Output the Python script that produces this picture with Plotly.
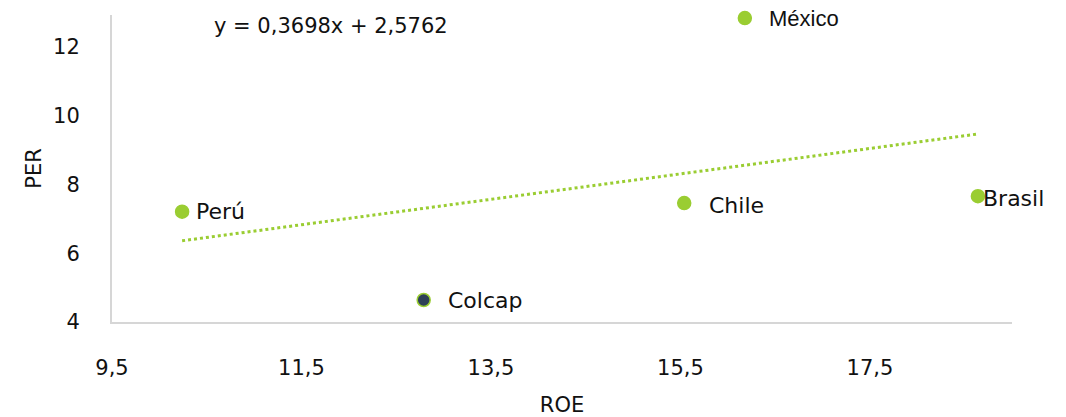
import plotly.graph_objects as go

# ROE vs PER by market
markets = ["Perú", "Colcap", "Chile", "México", "Brasil"]
roe = [10.24, 12.79, 15.54, 16.18, 18.64]
per = [7.21, 4.64, 7.46, 12.84, 7.66]

# linear trend (Excel-style)
slope = 0.3698
intercept = 2.5762
equation = "y = 0,3698x + 2,5762"

x_ticks = [9.5, 11.5, 13.5, 15.5, 17.5]
x_tick_text = ["9,5", "11,5", "13,5", "15,5", "17,5"]
y_ticks = [4, 6, 8, 10, 12]

GREEN = "#9acd32"
NAVY = "#2e4057"
FONT = "DejaVu Sans"

fill_colors = [NAVY if m == "Colcap" else GREEN for m in markets]

fig = go.Figure()

x_min, x_max = min(roe), max(roe)
fig.add_trace(go.Scatter(
    x=[x_min, x_max],
    y=[slope * x_min + intercept, slope * x_max + intercept],
    mode="lines",
    line=dict(color=GREEN, width=3, dash="dot"),
    hoverinfo="skip",
))

fig.add_trace(go.Scatter(
    x=roe, y=per, mode="markers", cliponaxis=False,
    marker=dict(size=13, color=fill_colors, line=dict(color=GREEN, width=1.5)),
))

# label offsets in pixels
shifts = {"Perú": 12, "Colcap": 22, "Chile": 23, "México": 22, "Brasil": 3}
for m, xv, yv in zip(markets, roe, per):
    fig.add_annotation(
        x=xv, y=yv, text=m, showarrow=False, xanchor="left",
        xshift=shifts[m], yshift=-2 if m in ("Chile", "Brasil") else 0,
        font=dict(family="Liberation Sans" if m == "México" else FONT,
                  size=22, color="#111111"),
    )

fig.add_annotation(
    xref="paper", yref="paper", x=0.111, y=0.965, xanchor="left", yanchor="middle",
    text=equation, showarrow=False,
    font=dict(family=FONT, size=21, color="#111111"),
)

fig.update_layout(
    width=1066, height=417,
    margin=dict(l=112, r=54, t=15, b=95),
    plot_bgcolor="white", paper_bgcolor="white",
    showlegend=False,
    font=dict(family=FONT, size=21, color="#111111"),
)
fig.update_xaxes(
    range=[9.5, 19.0], tickvals=x_ticks, ticktext=x_tick_text,
    showgrid=False, zeroline=False, showline=True, automargin=False,
    linecolor="#d6d6d6", linewidth=2, ticks="", ticklabelstandoff=26,
    title=dict(text="ROE", standoff=18, font=dict(size=21)),
)
fig.update_yaxes(
    range=[4, 12.93], tickvals=y_ticks,
    showgrid=False, zeroline=False, showline=True, automargin=False,
    linecolor="#d6d6d6", linewidth=2, ticks="", ticklabelstandoff=26,
    title=dict(text="PER", standoff=6, font=dict(size=21)),
)

fig.write_html("out.html")
